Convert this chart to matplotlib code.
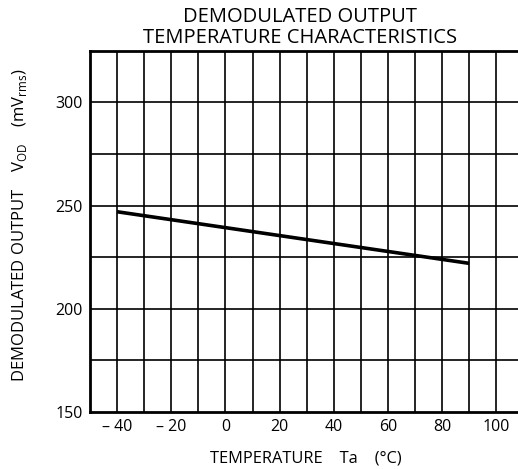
import matplotlib
matplotlib.use("Agg")
import matplotlib.pyplot as plt
import numpy as np

temps = [-40, 0, 40, 90]
vod = [247, 239.3, 231.6, 222]
xticks = [-40, -20, 0, 20, 40, 60, 80, 100]
xticklabels = ["– 40", "– 20", "0", "20", "40", "60", "80", "100"]
yticks = [150, 200, 250, 300]

plt.rcParams['font.family'] = ['Open Sans', 'DejaVu Sans']
plt.rcParams['mathtext.fontset'] = 'custom'
plt.rcParams['mathtext.rm'] = 'Open Sans'

fig = plt.figure(figsize=(5.18, 4.69), dpi=100)
ax = fig.add_axes([90/518, 1-412/469, 1-90/518, (412-50.7)/469])
ax.set_xlim(-50, 108)
ax.set_ylim(150, 325)

for x in np.arange(-40, 101, 10):
    ax.axvline(x, color='black', lw=1.2, zorder=1)
for y in np.arange(175, 325, 25):
    ax.axhline(y, color='black', lw=1.2, zorder=1)

ax.plot(temps, vod, color='black', lw=2.6, zorder=3, solid_capstyle='butt')

ax.set_xticks(xticks)
ax.set_xticklabels(xticklabels)
ax.set_yticks(yticks)
ax.tick_params(length=0, labelsize=11.5, pad=5)
for s in ['left', 'bottom', 'top']:
    ax.spines[s].set_linewidth(2)
ax.spines['right'].set_visible(False)

fig.text(300/518, 1-17/469, "DEMODULATED OUTPUT", ha='center', va='center', fontsize=14.5)
fig.text(300/518, 1-38/469, "TEMPERATURE CHARACTERISTICS", ha='center', va='center', fontsize=14.5)
fig.text(306/518, 1-458/469, "TEMPERATURE    Ta    (°C)", ha='center', va='center', fontsize=11.8)
fig.text(20/518, 1-225/469,
         "DEMODULATED OUTPUT    V$_{\\mathrm{OD}}$    (mV$_{\\mathrm{rms}}$)",
         ha='center', va='center', rotation=90, fontsize=12)

fig.savefig("out.png", dpi=100)
